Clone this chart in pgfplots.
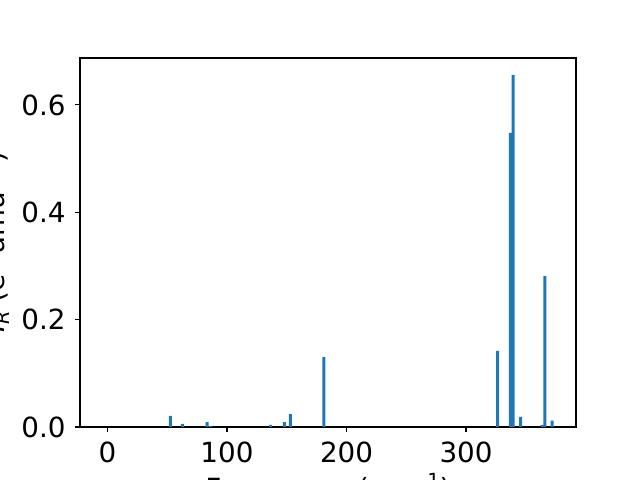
\documentclass[border=0pt]{standalone}
\usepackage{fontspec}
\setmainfont{DejaVu Sans}
\usepackage{pgfplots}
\pgfplotsset{compat=1.18}
\definecolor{mplblue}{HTML}{1F77B4}
\newcommand{\sups}[1]{\raisebox{0.42em}{\fontsize{14}{14}\selectfont #1}}
\newcommand{\subs}[1]{\raisebox{-0.18em}{\fontsize{14}{14}\selectfont #1}}
\begin{document}
\fontsize{20}{24}\selectfont
\begin{tikzpicture}
\path[use as bounding box] (0,0) rectangle (460.8pt,345.6pt);
\clip (0,0) rectangle (460.8pt,345.6pt);
\begin{axis}[
  at={(57.6pt,38.16pt)}, anchor=south west, scale only axis,
  width=357.1pt, height=265.7pt,
  xmin=-23, xmax=392, ymin=0, ymax=0.6875,
  xtick={0,100,200,300}, ytick={0,0.2,0.4,0.6},
  yticklabel style={/pgf/number format/.cd, fixed, fixed zerofill, precision=1},
  /pgf/number format/assume math mode=true,
  tick label style={font=\fontsize{20}{24}\selectfont},
  label style={font=\fontsize{20}{24}\selectfont},
  tick align=outside, major tick length=3.5pt,
  tick style={line width=0.8pt, black},
  axis line style={line width=0.8pt},
  xtick pos=bottom, ytick pos=left,
  xlabel={Frequency (cm\sups{−1})},
  ylabel={\textit{I}\subs{\itshape R} (e\sups{2} amu\sups{−1})},
  xlabel style={yshift=6pt},
  ylabel style={yshift=-5pt},
]
\addplot[ybar, bar width=2.5, fill=mplblue, draw=none] coordinates {
(52.7,0.0205) (62.6,0.0056) (83.3,0.0093) (86.2,0.002) (136.4,0.004)
(148,0.009) (153,0.024) (181,0.130) (326.4,0.1416) (337.2,0.548)
(339.5,0.656) (345.6,0.0187) (363.6,0.0037) (366,0.281) (372,0.0118)
};
\end{axis}
\end{tikzpicture}
\end{document}
